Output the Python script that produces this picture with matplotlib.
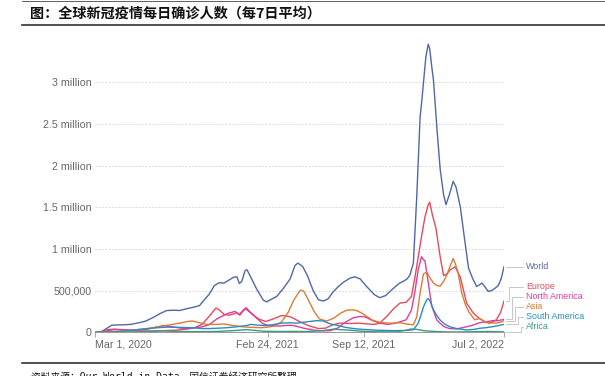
import matplotlib.pyplot as plt
import matplotlib.dates as mdates
import pandas as pd

# 7-day average of daily confirmed cases, thousands
world = [
    ("2020-03-01", 1.5), ("2020-03-15", 10), ("2020-03-25", 45), ("2020-04-05", 85),
    ("2020-04-15", 88), ("2020-05-01", 90), ("2020-05-15", 95), ("2020-06-01", 115),
    ("2020-06-15", 135), ("2020-07-01", 180), ("2020-07-15", 225), ("2020-07-28", 260),
    ("2020-08-10", 265), ("2020-08-25", 262), ("2020-09-10", 285), ("2020-09-22", 300),
    ("2020-10-05", 320), ("2020-10-15", 390), ("2020-10-25", 455), ("2020-11-05", 560),
    ("2020-11-15", 595), ("2020-11-25", 590), ("2020-12-05", 625), ("2020-12-15", 660),
    ("2020-12-22", 665), ("2020-12-27", 585), ("2021-01-01", 610), ("2021-01-08", 740),
    ("2021-01-12", 750), ("2021-01-20", 660), ("2021-02-01", 520), ("2021-02-15", 385),
    ("2021-02-22", 365), ("2021-03-05", 400), ("2021-03-15", 430), ("2021-03-28", 520),
    ("2021-04-12", 640), ("2021-04-22", 800), ("2021-04-28", 830), ("2021-05-08", 790),
    ("2021-05-18", 680), ("2021-05-30", 500), ("2021-06-10", 390), ("2021-06-20", 375),
    ("2021-06-30", 400), ("2021-07-10", 480), ("2021-07-20", 540), ("2021-08-01", 600),
    ("2021-08-15", 650), ("2021-08-25", 665), ("2021-09-05", 640), ("2021-09-20", 540),
    ("2021-10-05", 450), ("2021-10-16", 415), ("2021-10-28", 440), ("2021-11-10", 510),
    ("2021-11-25", 585), ("2021-12-05", 615), ("2021-12-12", 640), ("2021-12-18", 690),
    ("2021-12-25", 830), ("2022-01-01", 1620), ("2022-01-08", 2580), ("2022-01-12", 2800),
    ("2022-01-15", 2990), ("2022-01-20", 3300), ("2022-01-25", 3455), ("2022-01-28", 3400),
    ("2022-02-01", 3200), ("2022-02-05", 3020), ("2022-02-12", 2450), ("2022-02-19", 1950),
    ("2022-02-26", 1650), ("2022-03-03", 1530), ("2022-03-10", 1650), ("2022-03-18", 1810),
    ("2022-03-24", 1740), ("2022-04-02", 1500), ("2022-04-10", 1150), ("2022-04-19", 770),
    ("2022-04-28", 640), ("2022-05-06", 550), ("2022-05-12", 570), ("2022-05-17", 590),
    ("2022-05-24", 540), ("2022-05-30", 490), ("2022-06-06", 500), ("2022-06-13", 527),
    ("2022-06-20", 560), ("2022-06-26", 640), ("2022-07-02", 785),
]

europe = [
    ("2020-03-01", 0.5), ("2020-03-15", 8), ("2020-03-28", 32), ("2020-04-10", 38),
    ("2020-04-25", 30), ("2020-05-15", 18), ("2020-06-15", 15), ("2020-07-15", 18),
    ("2020-08-15", 25), ("2020-09-10", 40), ("2020-09-25", 55), ("2020-10-10", 95),
    ("2020-10-25", 190), ("2020-11-08", 290), ("2020-11-15", 270), ("2020-11-25", 215),
    ("2020-12-05", 205), ("2020-12-15", 220), ("2020-12-22", 235), ("2020-12-28", 205),
    ("2021-01-05", 265), ("2021-01-10", 280), ("2021-01-20", 230), ("2021-02-05", 160),
    ("2021-02-20", 130), ("2021-03-05", 155), ("2021-03-25", 200), ("2021-04-05", 195),
    ("2021-04-15", 180), ("2021-05-01", 130), ("2021-05-20", 80), ("2021-06-10", 45),
    ("2021-06-25", 50), ("2021-07-10", 90), ("2021-07-25", 110), ("2021-08-15", 105),
    ("2021-09-01", 110), ("2021-09-20", 100), ("2021-10-05", 95), ("2021-10-16", 110),
    ("2021-11-01", 200), ("2021-11-15", 290), ("2021-11-27", 350), ("2021-12-10", 360),
    ("2021-12-21", 430), ("2021-12-28", 650), ("2022-01-04", 900), ("2022-01-11", 1150),
    ("2022-01-18", 1380), ("2022-01-25", 1530), ("2022-01-28", 1560), ("2022-02-03", 1400),
    ("2022-02-10", 1250), ("2022-02-19", 900), ("2022-02-26", 680), ("2022-03-05", 700),
    ("2022-03-12", 750), ("2022-03-22", 785), ("2022-04-02", 660), ("2022-04-15", 350),
    ("2022-04-29", 230), ("2022-05-12", 165), ("2022-05-25", 120), ("2022-06-02", 108),
    ("2022-06-16", 150), ("2022-06-25", 240), ("2022-07-02", 375),
]

north_america = [
    ("2020-03-01", 0), ("2020-03-15", 3), ("2020-03-28", 20), ("2020-04-10", 33),
    ("2020-04-25", 32), ("2020-05-15", 28), ("2020-06-01", 27), ("2020-06-15", 32),
    ("2020-07-01", 55), ("2020-07-20", 78), ("2020-08-05", 70), ("2020-08-25", 52),
    ("2020-09-10", 45), ("2020-09-25", 55), ("2020-10-10", 65), ("2020-10-25", 90),
    ("2020-11-10", 160), ("2020-11-25", 205), ("2020-12-05", 230), ("2020-12-18", 250),
    ("2020-12-27", 215), ("2021-01-05", 270), ("2021-01-10", 295), ("2021-01-20", 235),
    ("2021-02-01", 170), ("2021-02-15", 100), ("2021-03-01", 80), ("2021-03-20", 75),
    ("2021-04-10", 85), ("2021-04-20", 80), ("2021-05-10", 50), ("2021-06-01", 25),
    ("2021-06-20", 17), ("2021-07-05", 20), ("2021-07-20", 50), ("2021-08-05", 120),
    ("2021-08-22", 175), ("2021-09-05", 190), ("2021-09-15", 185), ("2021-10-01", 140),
    ("2021-10-16", 110), ("2021-11-01", 95), ("2021-11-13", 105), ("2021-11-27", 125),
    ("2021-12-10", 150), ("2021-12-21", 265), ("2021-12-28", 480), ("2022-01-04", 750),
    ("2022-01-11", 906), ("2022-01-15", 870), ("2022-01-18", 860), ("2022-01-25", 600),
    ("2022-02-01", 320), ("2022-02-12", 145), ("2022-02-26", 70), ("2022-03-10", 45),
    ("2022-03-25", 40), ("2022-04-10", 60), ("2022-04-25", 80), ("2022-05-12", 115),
    ("2022-05-25", 125), ("2022-06-09", 140), ("2022-06-20", 140), ("2022-07-02", 155),
]

asia = [
    ("2020-03-01", 1), ("2020-03-20", 3), ("2020-04-10", 10), ("2020-05-01", 17),
    ("2020-05-20", 25), ("2020-06-10", 40), ("2020-07-01", 55), ("2020-07-20", 75),
    ("2020-08-10", 95), ("2020-08-25", 110), ("2020-09-10", 130), ("2020-09-20", 135),
    ("2020-10-05", 115), ("2020-10-20", 95), ("2020-11-10", 95), ("2020-11-25", 100),
    ("2020-12-15", 80), ("2021-01-05", 65), ("2021-01-20", 60), ("2021-02-10", 55),
    ("2021-02-22", 60), ("2021-03-10", 75), ("2021-03-25", 125), ("2021-04-08", 240),
    ("2021-04-20", 390), ("2021-05-03", 505), ("2021-05-10", 495), ("2021-05-18", 410),
    ("2021-06-01", 250), ("2021-06-12", 160), ("2021-06-27", 135), ("2021-07-12", 170),
    ("2021-07-25", 225), ("2021-08-08", 265), ("2021-08-20", 270), ("2021-08-29", 260),
    ("2021-09-10", 225), ("2021-09-20", 185), ("2021-10-01", 145), ("2021-10-16", 120),
    ("2021-11-01", 110), ("2021-11-15", 110), ("2021-11-27", 115), ("2021-12-10", 100),
    ("2021-12-25", 90), ("2022-01-01", 185), ("2022-01-08", 470), ("2022-01-15", 700),
    ("2022-01-22", 720), ("2022-01-29", 650), ("2022-02-05", 590), ("2022-02-12", 560),
    ("2022-02-19", 555), ("2022-02-26", 610), ("2022-03-05", 690), ("2022-03-12", 800),
    ("2022-03-18", 885), ("2022-03-22", 830), ("2022-03-28", 720), ("2022-04-05", 470),
    ("2022-04-12", 340), ("2022-04-19", 250), ("2022-05-02", 150), ("2022-05-12", 165),
    ("2022-05-22", 130), ("2022-06-02", 115), ("2022-06-15", 110), ("2022-06-25", 120),
    ("2022-07-02", 140),
]

south_america = [
    ("2020-03-01", 0), ("2020-04-01", 2), ("2020-04-20", 8), ("2020-05-10", 20),
    ("2020-06-01", 35), ("2020-06-20", 45), ("2020-07-10", 55), ("2020-07-28", 62),
    ("2020-08-15", 60), ("2020-09-01", 58), ("2020-09-20", 55), ("2020-10-10", 45),
    ("2020-10-27", 45), ("2020-11-15", 50), ("2020-12-01", 55), ("2020-12-20", 65),
    ("2021-01-10", 80), ("2021-01-20", 95), ("2021-02-05", 85), ("2021-02-22", 80),
    ("2021-03-10", 95), ("2021-03-25", 110), ("2021-04-10", 115), ("2021-04-25", 110),
    ("2021-05-16", 125), ("2021-06-07", 140), ("2021-06-20", 135), ("2021-07-05", 100),
    ("2021-07-18", 85), ("2021-08-05", 60), ("2021-08-22", 45), ("2021-09-10", 35),
    ("2021-10-01", 28), ("2021-10-16", 24), ("2021-11-13", 20), ("2021-12-10", 22),
    ("2021-12-25", 30), ("2022-01-04", 108), ("2022-01-10", 210), ("2022-01-15", 305),
    ("2022-01-22", 390), ("2022-01-25", 405), ("2022-01-30", 360), ("2022-02-05", 270),
    ("2022-02-12", 200), ("2022-02-19", 145), ("2022-03-01", 95), ("2022-03-12", 65),
    ("2022-03-25", 45), ("2022-04-15", 28), ("2022-05-01", 35), ("2022-05-12", 48),
    ("2022-05-25", 55), ("2022-06-09", 68), ("2022-06-20", 80), ("2022-07-02", 95),
]

africa = [
    ("2020-03-01", 0), ("2020-04-15", 1), ("2020-05-15", 3), ("2020-06-15", 9),
    ("2020-07-20", 17), ("2020-08-10", 12), ("2020-09-15", 8), ("2020-10-15", 8),
    ("2020-11-15", 11), ("2020-12-20", 22), ("2021-01-10", 32), ("2021-01-25", 25),
    ("2021-02-15", 13), ("2021-03-15", 10), ("2021-04-15", 11), ("2021-05-15", 9),
    ("2021-06-15", 18), ("2021-07-12", 38), ("2021-07-25", 32), ("2021-08-15", 25),
    ("2021-09-10", 12), ("2021-10-10", 6), ("2021-11-20", 5), ("2021-12-10", 25),
    ("2021-12-20", 40), ("2022-01-01", 35), ("2022-01-15", 20), ("2022-02-01", 12),
    ("2022-03-01", 5), ("2022-04-01", 4), ("2022-05-10", 8), ("2022-06-01", 10),
    ("2022-07-02", 5),
]

series_names = ["World", "Europe", "North America", "Asia", "South America", "Africa"]
series_data = [world, europe, north_america, asia, south_america, africa]
colors = ["#5068a6", "#e44a5e", "#de3c9e", "#dd7a34", "#2b8cc0", "#3a9a84"]

x_ticks = ["2020-03-01", "2021-02-24", "2021-09-12", "2022-07-02"]
x_labels = ["Mar 1, 2020", "Feb 24, 2021", "Sep 12, 2021", "Jul 2, 2022"]
y_ticks = [0, 500000, 1000000, 1500000, 2000000, 2500000, 3000000]
y_labels = ["0", "500,000", "1 million", "1.5 million", "2 million", "2.5 million", "3 million"]

title = "图：全球新冠疫情每日确诊人数（每7日平均）"
source = "资料来源：Our World in Data，国信证券经济研究所整理"

W, H = 605, 376
plt.rcParams["font.family"] = ["Liberation Sans", "DejaVu Sans"]
fig = plt.figure(figsize=(W / 100, H / 100), dpi=100)
ax = fig.add_axes([95 / W, 1 - 332.3 / H, (504 - 95) / W, (332.3 - 40.4) / H])

for name, data, c in zip(series_names, series_data, colors):
    df = pd.DataFrame(data, columns=["date", "k"])
    df["date"] = pd.to_datetime(df["date"])
    ax.plot(df["date"], df["k"] * 1000, color=c, lw=1.0, zorder=3)

ax.set_xlim(pd.Timestamp(x_ticks[0]), pd.Timestamp(x_ticks[-1]))
ax.set_ylim(0, 3500000)
ax.set_yticks(y_ticks)
ax.set_yticklabels(y_labels)
ax.set_xticks([pd.Timestamp(d) for d in x_ticks])
ax.set_xticklabels(x_labels)
xl = ax.get_xticklabels()
xl[0].set_ha("left")
xl[-1].set_ha("right")

ax.tick_params(axis="y", length=0, pad=2.5, labelsize=7.7, labelcolor="#666666")
ax.tick_params(axis="x", length=3.5, width=0.6, color="#999999", pad=2,
               labelsize=7.7, labelcolor="#666666")
for s in ["top", "right", "left"]:
    ax.spines[s].set_visible(False)
ax.spines["bottom"].set_color("#999999")
ax.spines["bottom"].set_linewidth(0.7)
for v in y_ticks[1:]:
    ax.axhline(v, color="#d0d0d0", lw=0.6, ls=(0, (2, 2)), zorder=1)

# overlay in pixel coordinates for header, footer and line labels
ov = fig.add_axes([0, 0, 1, 1], facecolor="none")
ov.set_xlim(0, W)
ov.set_ylim(H, 0)
ov.axis("off")

ov.plot([22, W], [1, 1], color="#444444", lw=0.6)
ov.plot([22, W], [25, 25], color="#333333", lw=1.2)
ov.text(30, 13.5, title, fontsize=10.2, fontweight="bold", va="center", ha="left",
        family=["Noto Sans CJK SC"], color="#111111")
ov.plot([22, W], [362.5, 362.5], color="#333333", lw=1.2)
ov.text(31, 379.5, source, fontsize=7, va="baseline", ha="left",
        family=["DejaVu Sans Mono", "Noto Sans CJK SC"], color="#111111")

label_y = [266.7, 286.7, 296.7, 306.7, 316.7, 326.7]
elbow_x = [512, 509, 512, 515, 518, 521]
for name, data, c, ly, ex in zip(series_names, series_data, colors, label_y, elbow_x):
    d_end, v_end = data[-1]
    px, py = ax.transData.transform((mdates.date2num(pd.Timestamp(d_end)), v_end * 1000))
    py = H - py
    ov.plot([px + 2, ex, ex, 523], [py, py, ly, ly], color="#c8c8c8", lw=0.7)
    ov.text(526, ly, name, color=c, fontsize=6.4, va="center", ha="left")

fig.savefig("out.png", dpi=100)
